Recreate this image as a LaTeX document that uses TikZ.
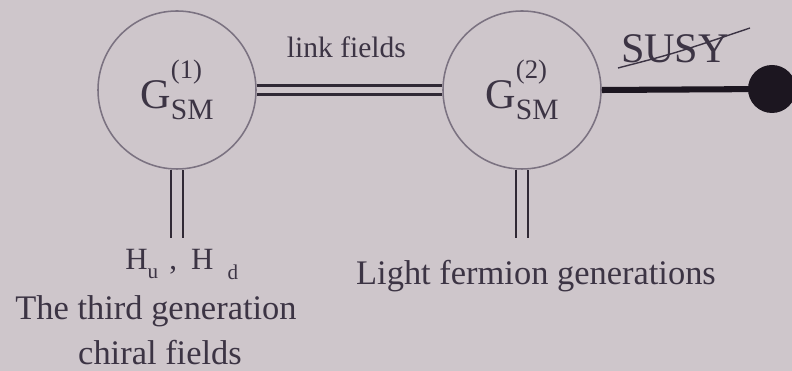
\documentclass[tikz,border=0pt]{standalone}
\usepackage{fontspec}
\setmainfont{Liberation Serif}
\usetikzlibrary{positioning}
\definecolor{bgPink}{HTML}{CEC6CB}
\definecolor{inkGrey}{HTML}{3C3444}
\definecolor{ringGrey}{HTML}{7B7281}
\definecolor{linkGrey}{HTML}{302935}
\definecolor{susyBlack}{HTML}{1C1620}
\newcommand{\fsz}[1]{\fontsize{#1}{#1}\selectfont}
\newcommand{\gsmlabel}[1]{\fsz{30}G\fsz{19}\rlap{\raisebox{21pt}{(#1)}}\fsz{21}\raisebox{-8pt}{SM}}
\tikzset{
  groupring/.style = {circle, draw=ringGrey, line width=1.1pt, minimum size=3.95cm,
                      inner sep=0pt, text=inkGrey},
  linkline/.style  = {draw=linkGrey, double=bgPink, line width=1.6pt, double distance=4.8pt},
  legline/.style   = {draw=linkGrey, double=bgPink, line width=1.6pt, double distance=6.5pt},
  susyline/.style  = {susyBlack, line width=4.3pt},
  susydot/.style   = {circle, fill=susyBlack, minimum size=1.2cm, inner sep=0pt},
  lbl/.style       = {text=inkGrey, inner sep=0pt},
}

\begin{document}
\begin{tikzpicture}
  \fill[bgPink] (0,0) rectangle (19.8,9.275);
  \useasboundingbox (0,0) rectangle (19.8,9.275);
  % the two copies of the standard model group
  \node[groupring] (ring1) at (4.425,7.025) {\gsmlabel{1}};
  \node[groupring] (ring2) at (13.05,7.025) {\gsmlabel{2}};
  \node[susydot] (breakdot) at (19.3,7.05) {};
  % link fields between the sites
  \draw[linkline] (ring1.east) -- (ring2.west);
  \node[lbl, anchor=base] (linklbl) at (8.66,7.825) {\fsz{21}link fields};
  % susy breaking
  \draw[susyline] (ring2.east) -- (breakdot.center);
  \node[lbl, anchor=base] (susylbl) at (16.875,7.7) {\fsz{30}SUSY};
  \draw[inkGrey, line width=1pt] (15.45,7.575) .. controls (16.9,7.95) .. (18.75,8.575);
  % fields living on each site
  \coordinate (foot1) at ([yshift=-1.7cm]ring1.south);
  \coordinate (foot2) at ([yshift=-1.7cm]ring2.south);
  \draw[legline] (ring1.south) -- (foot1);
  \draw[legline] (ring2.south) -- (foot2);
  \node[lbl, anchor=base west] (higgs) at (3.125,2.525)
    {\fsz{22}H\raisebox{-6pt}{\fsz{15}u}\hspace{8pt},\hspace{10pt}H\hspace{10pt}\raisebox{-7pt}{\fsz{15}d}};
  \node[lbl, anchor=base] (thirdgen) at (3.9,1.275) {\fsz{24.5}The third generation};
  \node[lbl, anchor=base] (chiral) at (4.0,0.16) {\fsz{24.5}chiral fields};
  \node[lbl, anchor=base] (lightgen) at (13.4,2.15) {\fsz{24.5}Light fermion generations};
\end{tikzpicture}
\end{document}
